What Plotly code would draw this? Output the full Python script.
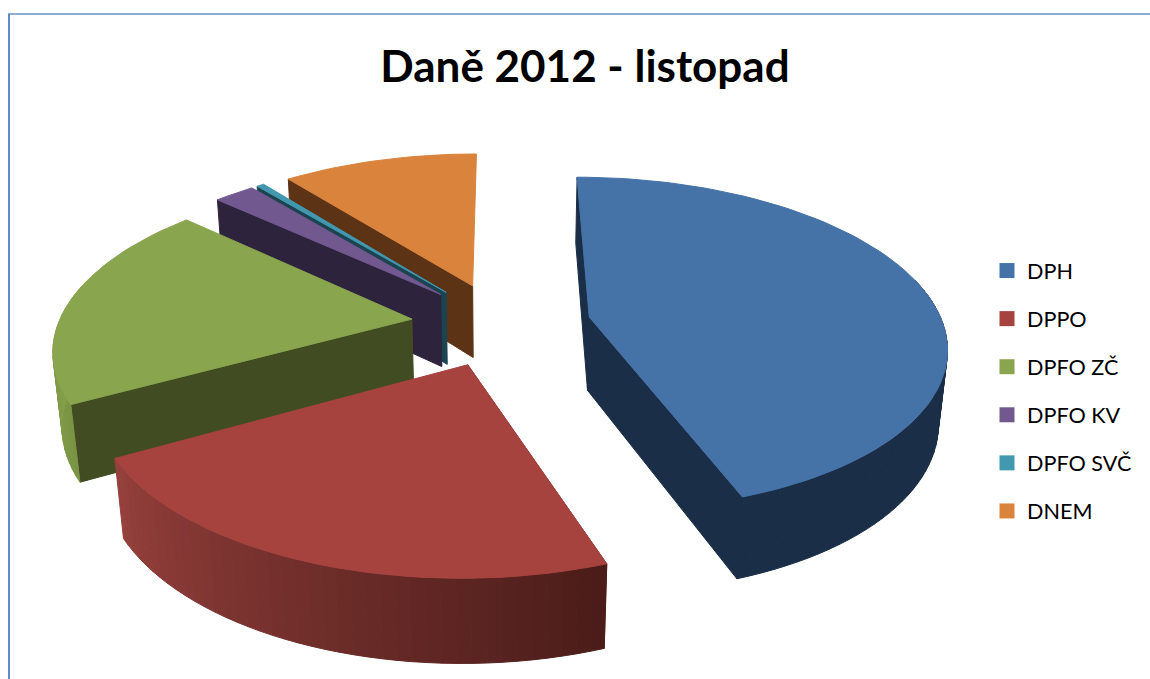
import math
import plotly.graph_objects as go

categories = ["DPH", "DPPO", "DPFO ZČ", "DPFO KV", "DPFO SVČ", "DNEM"]
values = [44.6, 22.35, 19.85, 2.2, 0.4, 10.6]
top_colors = ["#4572A7", "#A6433F", "#89A54E", "#71588F", "#4198AF", "#D9833D"]
wall_colors = ["#1B2E47", "#8F3F3B", "#414C22", "#2D233C", "#1C4350", "#5C3415"]
title_text = "Daně 2012 - listopad"

# view of the exploded pie
CX, CY, SCALE = 501.0, 324.0, 353.5
TILT_SIN = 0.465
CAM = 5.5
HEIGHT = 0.24
EXPLODE = 0.255
START_DEG = 0.0
W, H = 1150, 679


def project(x, y, z):
    c = math.sqrt(1 - TILT_SIN ** 2)
    depth = CAM - y * c - z * TILT_SIN
    f = CAM / depth
    return CX + x * f * SCALE, CY + (y * TILT_SIN - z * c) * f * SCALE


def to_rgb(col):
    return int(col[1:3], 16), int(col[3:5], 16), int(col[5:7], 16)


def blend(c0, c1, t):
    a, b = to_rgb(c0), to_rgb(c1)
    return "rgb(%d,%d,%d)" % tuple(round(a[i] + (b[i] - a[i]) * t) for i in range(3))


fig = go.Figure()


def poly(pts, color):
    xs = [p[0] for p in pts] + [pts[0][0]]
    ys = [p[1] for p in pts] + [pts[0][1]]
    fig.add_trace(go.Scatter(x=xs, y=ys, mode="lines", fill="toself", fillcolor=color,
                             line=dict(color=color, width=1), hoverinfo="skip", showlegend=False))


total = sum(values)
spans = []
a = START_DEG
for v in values:
    b = a + v / total * 360
    spans.append((a, b))
    a = b


def point(i, ang, r, z):
    a0, a1 = spans[i]
    mid = math.radians((a0 + a1) / 2)
    ox, oy = EXPLODE * math.sin(mid), -EXPLODE * math.cos(mid)
    t = math.radians(ang)
    return project(ox + r * math.sin(t), oy - r * math.cos(t), z)


def outer_shade(i, ang):
    wall = wall_colors[i]
    if i == 1:   # light on the left, dark on the right
        return blend("#4A1C19", "#96403C", (ang - spans[1][0]) / (spans[1][1] - spans[1][0]))
    if i == 2:
        return blend("#7A9444", "#89A54E", (ang - spans[2][0]) / 40)
    return wall


def draw_slice(i):
    a0, a1 = spans[i]
    col = top_colors[i]
    n = max(4, int((a1 - a0) / 2))
    angs = [a0 + (a1 - a0) * j / n for j in range(n + 1)]
    for ang in ((a0, a1) if i == 0 else (a0,)):
        poly([point(i, 0, 0, 0), point(i, ang, 1, 0), point(i, ang, 1, -HEIGHT), point(i, 0, 0, -HEIGHT)],
             wall_colors[i])
    for j in range(n):
        mid = (angs[j] + angs[j + 1]) / 2
        if -math.cos(math.radians(mid)) < -0.25:
            continue
        poly([point(i, angs[j], 1, 0), point(i, angs[j + 1], 1, 0),
              point(i, angs[j + 1], 1, -HEIGHT), point(i, angs[j], 1, -HEIGHT)], outer_shade(i, mid))
    poly([point(i, 0, 0, 0)] + [point(i, t, 1, 0) for t in angs], col)


for i in (5, 4, 3, 2, 0, 1):
    draw_slice(i)

for name, col in zip(categories, top_colors):
    fig.add_trace(go.Scatter(x=[None], y=[None], mode="markers", name=name, legendgroup=name,
                             marker=dict(symbol="square", size=15, color=col)))

fig.update_layout(
    width=W, height=H, autosize=False,
    margin=dict(l=0, r=0, t=0, b=0),
    paper_bgcolor="white", plot_bgcolor="white",
    font=dict(family="Lato", color="black"),
    title=dict(text=f"<b>{title_text}</b>", x=585 / W, y=1 - 67 / H, xanchor="center", yanchor="middle",
               font=dict(size=44, family="Lato", color="black")),
    xaxis=dict(range=[0, W], visible=False, fixedrange=True),
    yaxis=dict(range=[H, 0], visible=False, fixedrange=True),
    legend=dict(x=987 / W, y=1 - 250 / H, xanchor="left", yanchor="top", tracegroupgap=17,
                font=dict(size=21.6, family="Lato", color="black"), bgcolor="rgba(0,0,0,0)"),
    shapes=[
        dict(type="line", xref="x", yref="y", x0=8, x1=1150, y0=14, y1=14, line=dict(color="#8DADD3", width=2)),
        dict(type="line", xref="x", yref="y", x0=9, x1=9, y0=14, y1=679, line=dict(color="#5F8BC8", width=2)),
    ],
)
fig.write_html("out.html", config=dict(displayModeBar=False),
               post_script="document.body.style.margin='0';document.body.style.overflow='hidden';")
